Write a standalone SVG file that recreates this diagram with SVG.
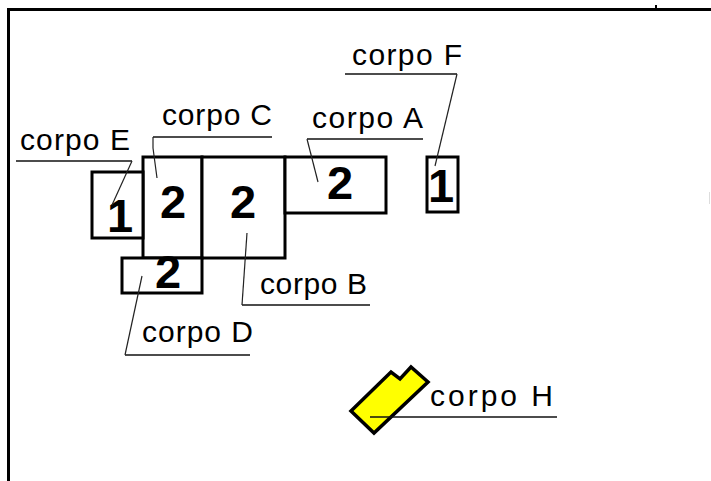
<svg xmlns="http://www.w3.org/2000/svg" width="711" height="481" viewBox="0 0 711 481">
  <style>
    .frame { fill: none; stroke: #000; stroke-width: 3; }
    .box { fill: #fff; stroke: #000; stroke-width: 3; }
    .num { font-family: "Liberation Sans", Arial, sans-serif; font-weight: bold; font-size: 47px; fill: #000; text-anchor: middle; }
    .lbl { font-family: "Liberation Sans", Arial, sans-serif; font-size: 30px; fill: #000; }
    .lead { fill: none; stroke: #222; stroke-width: 1.2; }
    .under { fill: none; stroke: #111; stroke-width: 1.5; }
  </style>

  <rect width="711" height="481" fill="#fff"/>

  <!-- sheet border -->
  <g id="frame">
    <path class="frame" d="M8.5 481 V9.5 H711"/>
    <path d="M656 5 V9" stroke="#000" stroke-width="2"/>
    <path d="M709.5 192 V204" stroke="#ddd" stroke-width="1"/>
  </g>

  <!-- bodies -->
  <g id="corpo-C">
    <rect class="box" x="143" y="157" width="59" height="101"/>
    <text class="num" x="173" y="218">2</text>
  </g>
  <g id="corpo-B">
    <rect class="box" x="202" y="157" width="83" height="101"/>
    <text class="num" x="243" y="218">2</text>
  </g>
  <g id="corpo-A">
    <rect class="box" x="285" y="157" width="101" height="56"/>
    <text class="num" x="340" y="199">2</text>
  </g>
  <g id="corpo-F">
    <rect class="box" x="427" y="157" width="31" height="55"/>
    <text class="num" x="441" y="202">1</text>
  </g>
  <g id="corpo-E">
    <rect class="box" x="92" y="172" width="51" height="66"/>
    <text class="num" x="120" y="232">1</text>
  </g>
  <g id="corpo-D">
    <rect class="box" x="122" y="258" width="80" height="35"/>
    <text class="num" x="168" y="288">2</text>
  </g>
  <g id="corpo-H">
    <polygon points="351,411 391,372 400,379 411,367 428,382 374,433" fill="#ffff00" stroke="#000" stroke-width="3.5" stroke-linejoin="miter"/>
  </g>

  <!-- labels -->
  <g id="labels">
    <text class="lbl" x="352" y="65" textLength="110" lengthAdjust="spacing">corpo F</text>
    <text class="lbl" x="312" y="128" textLength="111" lengthAdjust="spacing">corpo A</text>
    <text class="lbl" x="162" y="125" textLength="110" lengthAdjust="spacing">corpo C</text>
    <text class="lbl" x="20" y="150" textLength="110" lengthAdjust="spacing">corpo E</text>
    <text class="lbl" x="260" y="294" textLength="107" lengthAdjust="spacing">corpo B</text>
    <text class="lbl" x="142" y="342" textLength="111" lengthAdjust="spacing">corpo D</text>
    <text class="lbl" x="430" y="406" textLength="123" lengthAdjust="spacing">corpo H</text>
  </g>

  <!-- leader lines -->
  <g id="connectors">
    <path class="under" d="M345 74 H457"/>
    <path class="lead" d="M457 74 L435 166"/>
    <path class="under" d="M307 139 H423"/>
    <path class="lead" d="M307 139 L318 182"/>
    <path class="under" d="M153 137 H272"/>
    <path class="lead" d="M153 137 V148 L157 178"/>
    <path class="under" d="M16 161 H132"/>
    <path class="lead" d="M132 161 L112 205"/>
    <path class="under" d="M242 305 H370"/>
    <path class="lead" d="M242 305 L247 233"/>
    <path class="under" d="M125 355 H250"/>
    <path class="lead" d="M125 355 L142 276"/>
    <path class="under" d="M370 417 H557" stroke="#333"/>
  </g>
</svg>
